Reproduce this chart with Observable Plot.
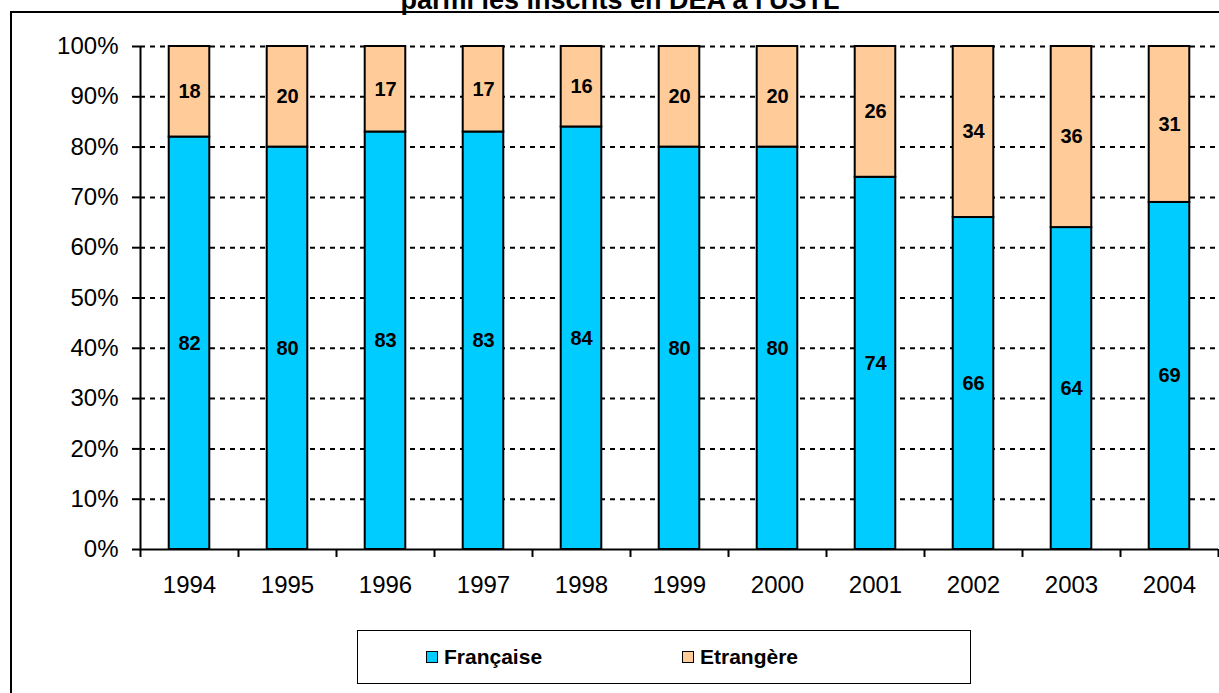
<!DOCTYPE html>
<html>
<head>
<meta charset="utf-8">
<script src="https://cdn.jsdelivr.net/npm/d3@7"></script>
<script src="https://cdn.jsdelivr.net/npm/@observablehq/plot@0.6"></script>
<style>
  html, body { margin: 0; padding: 0; background: #fff; }
  #wrap { position: relative; width: 1219px; height: 693px; overflow: hidden; font-family: "Liberation Sans", Arial, sans-serif; }
  #frame { position: absolute; left: 10px; top: 11px; width: 1300px; height: 800px; border-left: 2px solid #000; border-top: 2px solid #000; }
  #title { position: absolute; left: 0; width: 1240px; top: -11px; text-align: center; font-weight: bold; font-size: 27px; line-height: 22px; white-space: nowrap; }
  #chart { position: absolute; left: 0; top: 0; }
  #legend { position: absolute; left: 357px; top: 630px; width: 612px; height: 52px; border: 1.5px solid #000; background: #fff; }
  .item { position: absolute; top: 14px; font-weight: bold; font-size: 21px; line-height: 24px; white-space: nowrap; }
  .sw { display: inline-block; width: 10px; height: 10px; border: 1.5px solid #000; margin-right: 6px; vertical-align: 1px; }
</style>
</head>
<body>
<div id="wrap">
  <div id="frame"></div>
  <div id="title"></div>
  <div id="chart"></div>
  <div id="legend"></div>
</div>
<script>
const titleText = "parmi les inscrits en DEA à l'USTL";
const years = [1994, 1995, 1996, 1997, 1998, 1999, 2000, 2001, 2002, 2003, 2004];
const francaise = [82, 80, 83, 83, 84, 80, 80, 74, 66, 64, 69];
const etrangere = [18, 20, 17, 17, 16, 20, 20, 26, 34, 36, 31];
const seriesNames = ["Française", "Etrangère"];
const seriesColors = ["#00CCFF", "#FFCC99"];
const yTicks = [0, 10, 20, 30, 40, 50, 60, 70, 80, 90, 100];

const rows = [];
years.forEach((year, i) => {
  rows.push({year, serie: seriesNames[0], value: francaise[i], y1: 0, y2: francaise[i]});
  rows.push({year, serie: seriesNames[1], value: etrangere[i], y1: francaise[i], y2: francaise[i] + etrangere[i]});
});
const boundaries = [years[0] - 0.5, ...years.map(y => y + 0.5)];
const half = 0.207;

document.getElementById("title").textContent = titleText;

const chart = Plot.plot({
  width: 1219,
  height: 693,
  marginTop: 46,
  marginBottom: 144,
  marginLeft: 140,
  marginRight: 1,
  style: { fontFamily: "'Liberation Sans', Arial, sans-serif", background: "transparent", color: "#000", overflow: "visible" },
  x: { domain: [years[0] - 0.5, years[years.length - 1] + 0.5] },
  y: { domain: [0, 100] },
  color: { domain: seriesNames, range: seriesColors },
  marks: [
    Plot.gridY(yTicks.filter(d => d > 0), { stroke: "#000", strokeOpacity: 1, strokeWidth: 2, strokeDasharray: "5,5" }),
    Plot.rect(rows, { x1: d => d.year - half, x2: d => d.year + half, y1: "y1", y2: "y2", fill: "serie", stroke: "#000", strokeWidth: 2 }),
    Plot.text(rows, { x: "year", y: d => (d.y1 + d.y2) / 2, text: d => String(d.value), fontWeight: "bold", fontSize: 20, fill: "#000" }),
    Plot.axisY({ ticks: yTicks, tickFormat: d => d + "%", tickSize: 8, tickPadding: 14, fontSize: 24, strokeWidth: 2, label: null }),
    Plot.axisX({ ticks: boundaries, tickFormat: () => "", tickSize: 8, strokeWidth: 2, label: null }),
    Plot.axisX({ ticks: years, tickFormat: d => String(d), tickSize: 0, tickPadding: 26, fontSize: 24, label: null }),
    Plot.ruleX([years[0] - 0.5], { stroke: "#000", strokeWidth: 2 }),
    Plot.ruleY([0], { stroke: "#000", strokeWidth: 2 })
  ]
});
document.getElementById("chart").appendChild(chart);

const legend = document.getElementById("legend");
const legendLefts = [68, 324];
seriesNames.forEach((name, i) => {
  const item = document.createElement("div");
  item.className = "item";
  item.style.left = legendLefts[i] + "px";
  const sw = document.createElement("span");
  sw.className = "sw";
  sw.style.background = seriesColors[i];
  item.appendChild(sw);
  item.appendChild(document.createTextNode(name));
  legend.appendChild(item);
});
</script>
</body>
</html>
